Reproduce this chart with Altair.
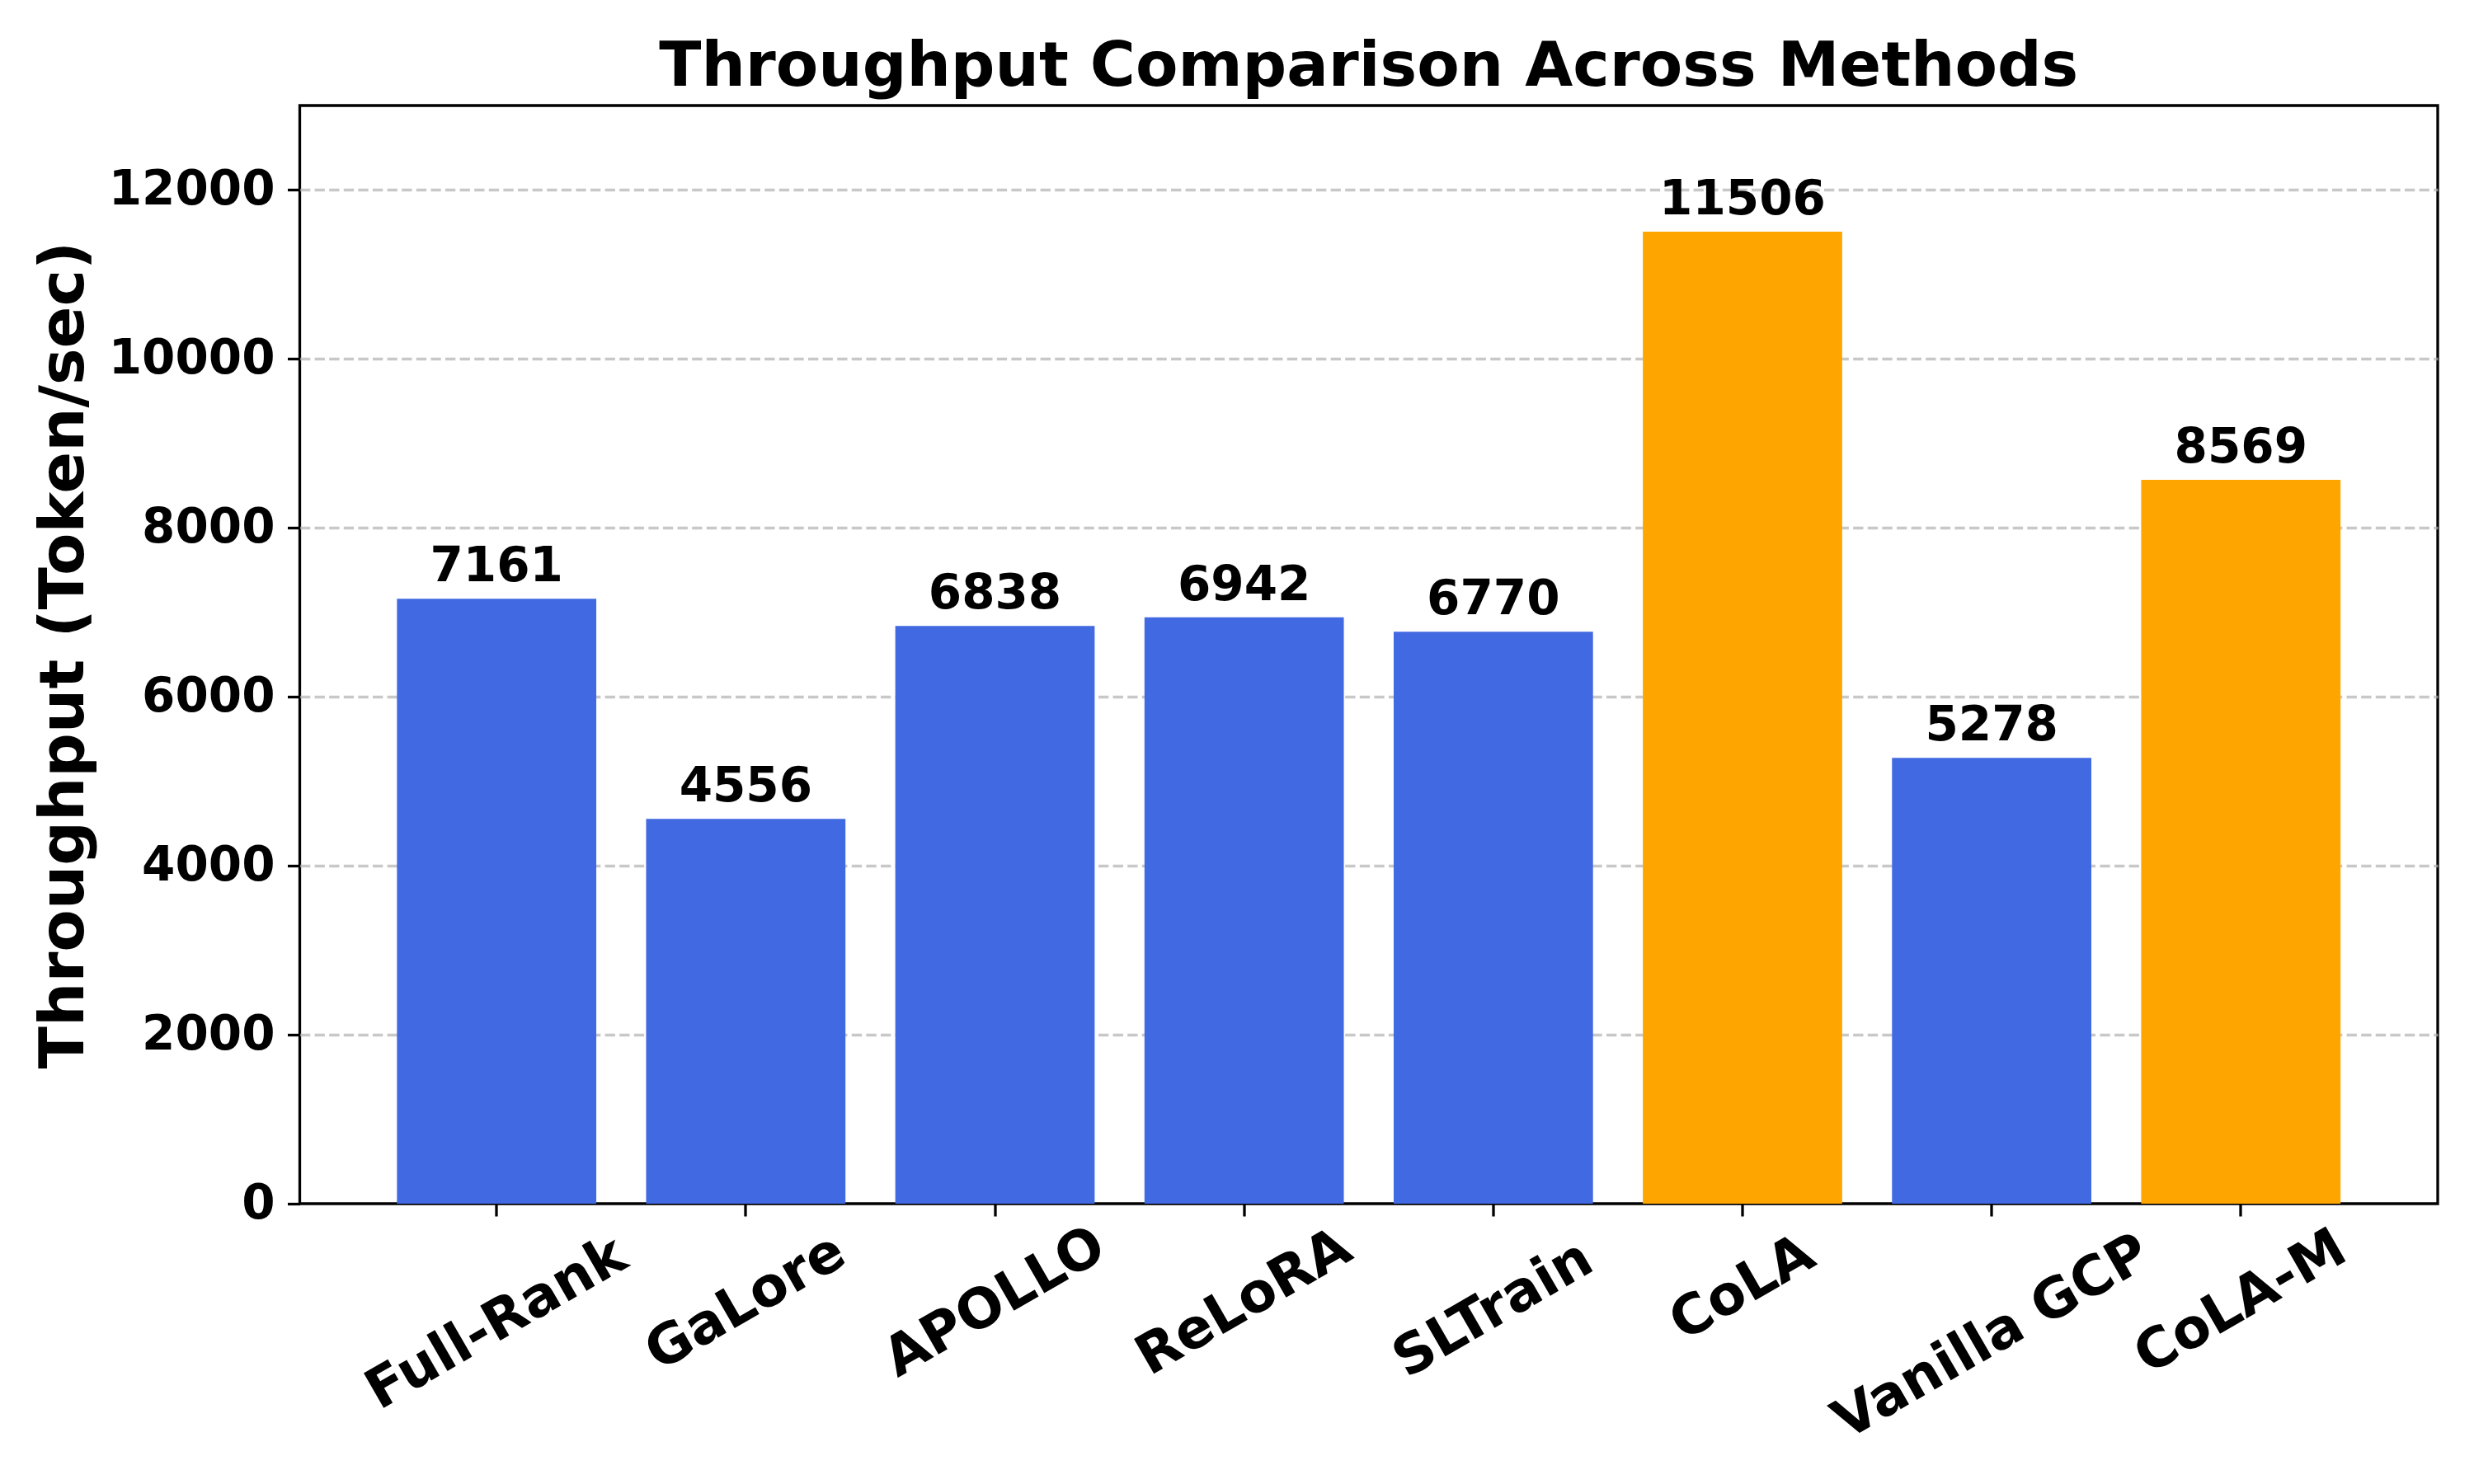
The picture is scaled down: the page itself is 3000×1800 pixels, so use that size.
import altair as alt
import pandas as pd

# ---- data ----
methods = ["Full-Rank", "GaLore", "APOLLO", "ReLoRA", "SLTrain", "CoLA", "Vanilla GCP", "CoLA-M"]
throughput = [7161, 4556, 6838, 6942, 6770, 11506, 5278, 8569]
family = ["baseline", "baseline", "baseline", "baseline", "baseline", "cola", "baseline", "cola"]
y_ticks = [0, 2000, 4000, 6000, 8000, 10000, 12000]

df = pd.DataFrame({"method": methods, "throughput": throughput, "family": family})

FONT = "DejaVu Sans"
W, H = 2592.5, 1332

x_enc = alt.X(
    "method:N",
    sort=methods,
    title=None,
    scale=alt.Scale(paddingInner=0.2, paddingOuter=0.39),
    axis=alt.Axis(
        labelAngle=330,
        labelAlign="center",
        labelBaseline="middle",
        labelFont=FONT,
        labelFontWeight="bold",
        labelFontSize=66.7,
        labelColor="black",
        labelLimit=0,
        labelPadding=alt.ExprRef("41 + 0.25*(50 + 34*length(datum.label))"),
        labelOverlap=False,
        ticks=True,
        tickSize=15,
        tickWidth=3.3,
        tickColor="black",
        domain=False,
        grid=False,
    ),
)

y_enc = alt.Y(
    "throughput:Q",
    scale=alt.Scale(domain=[0, 13000], nice=False, zero=True),
    axis=alt.Axis(
        values=y_ticks,
        format="d",
        title="Throughput (Token/sec)",
        titleFont=FONT,
        titleFontWeight="bold",
        titleFontSize=75,
        titleColor="black",
        titleAngle=270,
        titleX=-263.5,
        titleY=H / 2,
        titleAlign="center",
        titleBaseline="alphabetic",
        titleLimit=0,
        labelFont=FONT,
        labelFontWeight="bold",
        labelFontSize=58,
        labelColor="black",
        labelLimit=0,
        labelPadding=15.5,
        tickSize=15,
        tickWidth=3.3,
        tickColor="black",
        domain=False,
        grid=True,
        gridColor="#b0b0b0",
        gridOpacity=alt.ExprRef("datum.value === 0 ? 0 : 0.7"),
        gridDash=[12.3, 5.3],
        gridWidth=3.3,
    ),
)

bars = alt.Chart(df).mark_bar(strokeWidth=0).encode(
    x=x_enc,
    y=y_enc,
    color=alt.Color(
        "family:N",
        scale=alt.Scale(domain=["baseline", "cola"], range=["#4169E1", "#FFA500"]),
        legend=None,
    ),
)

labels = alt.Chart(df).mark_text(
    font=FONT,
    fontWeight="bold",
    fontSize=58,
    baseline="alphabetic",
    align="center",
    dy=-21,
    color="black",
).encode(
    x=x_enc,
    y=y_enc,
    text=alt.Text("throughput:Q", format="d"),
)

chart = (
    alt.layer(bars, labels)
    .properties(
        width=W,
        height=H,
        autosize=alt.AutoSizeParams(type="none"),
        padding={"left": 355.5, "top": 120, "right": 36, "bottom": 332},
        background="white",
        title=alt.TitleParams(
            "Throughput Comparison Across Methods",
            font=FONT,
            fontSize=75,
            fontWeight="bold",
            color="black",
            anchor="middle",
            frame="group",
            offset=-51,
            baseline="alphabetic",
            limit=0,
        ),
    )
    .configure_view(stroke="black", strokeWidth=3.3)
)

chart.save("out.html", embed_options={"renderer": "svg", "actions": False})
